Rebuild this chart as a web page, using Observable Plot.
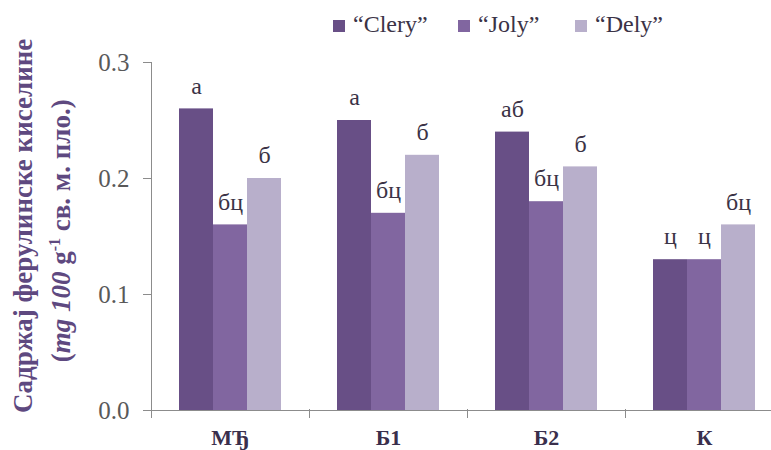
<!DOCTYPE html>
<html><head><meta charset="utf-8">
<script src="https://cdn.jsdelivr.net/npm/d3@7"></script>
<script src="https://cdn.jsdelivr.net/npm/@observablehq/plot@0.6"></script>
<style>
body{margin:0;background:#fff;}
#wrap{position:relative;width:771px;height:450px;overflow:hidden;font-family:"Liberation Serif","Times New Roman",serif;background:#fff;}
#wrap svg{position:absolute;left:0;top:0;}
#wrap svg text{font-family:"Liberation Serif","Times New Roman",serif !important;}
.legend{position:absolute;top:11px;left:0;font-size:24px;color:#3b3346;white-space:nowrap;}
.legend .item{position:absolute;top:0;display:flex;align-items:center;}
.legend .sw{width:12px;height:12px;margin-right:8px;margin-top:3px;}
.ytitle{position:absolute;font-weight:bold;color:#5e4980;font-size:27px;white-space:nowrap;transform-origin:center center;line-height:1.1;}
</style></head><body><div id="wrap"></div>
<script>
const categories = ["МЂ", "Б1", "Б2", "К"];
const seriesNames = ["“Clery”", "“Joly”", "“Dely”"];
const cleryValues = [0.26, 0.25, 0.24, 0.13];
const jolyValues = [0.16, 0.17, 0.18, 0.13];
const delyValues = [0.20, 0.22, 0.21, 0.16];
const cleryLetters = ["а", "а", "аб", "ц"];
const jolyLetters = ["бц", "бц", "бц", "ц"];
const delyLetters = ["б", "б", "б", "бц"];
const seriesColors = ["#684f86", "#8166a0", "#b8afcb"];
const yTicks = [0, 0.1, 0.2, 0.3];

const valuesBySeries = [cleryValues, jolyValues, delyValues];
const lettersBySeries = [cleryLetters, jolyLetters, delyLetters];
const data = [];
categories.forEach((c, i) => {
  seriesNames.forEach((s, j) => {
    data.push({category: c, series: s, value: valuesBySeries[j][i], letter: lettersBySeries[j][i]});
  });
});

const font = "Liberation Serif";
const chart = Plot.plot({
  width: 771,
  height: 450,
  marginTop: 62,
  marginBottom: 40,
  marginLeft: 149,
  marginRight: 0,
  style: {fontFamily: font, background: "transparent", overflow: "hidden"},
  fx: {domain: categories, range: [149, 784], padding: 0},
  x: {domain: seriesNames, paddingInner: 0, paddingOuter: 0.768, axis: null},
  y: {domain: [0, 0.3], axis: null},
  color: {domain: seriesNames, range: seriesColors},
  marks: [
    Plot.barY(data, {fx: "category", x: "series", y: "value", fill: "series"}),
    Plot.ruleY([0], {stroke: "#8c8c8c", strokeWidth: 1}),
    Plot.frame({anchor: "left", facetAnchor: "left", stroke: "#8c8c8c", insetBottom: -7}),
    Plot.frame({anchor: "left", stroke: "#8c8c8c", insetTop: 347, insetBottom: -7}),
    Plot.axisY({ticks: yTicks, tickFormat: d3.format(".1f"), tickSize: 8, tickPadding: 14, fontSize: 25, fontFamily: font, fill: "#595959", stroke: "#8c8c8c", label: null}),
    Plot.axisFx({anchor: "bottom", tickSize: 0, tickPadding: 19, fontSize: 22, fontFamily: font, fontWeight: "bold", fill: "#3a2f4c", label: null}),
    Plot.text(data, {fx: "category", x: "series", y: "value", text: "letter", dy: -23, lineAnchor: "middle", fontSize: 24, fontFamily: font, fill: "#3b3346"})
  ]
});
const wrap = document.getElementById("wrap");
wrap.appendChild(chart);

// legend
const legend = document.createElement("div");
legend.className = "legend";
const legendX = [333, 458, 575];
seriesNames.forEach((s, j) => {
  const it = document.createElement("div");
  it.className = "item";
  it.style.left = legendX[j] + "px";
  const sw = document.createElement("span");
  sw.className = "sw";
  sw.style.background = seriesColors[j];
  const tx = document.createElement("span");
  tx.textContent = s;
  it.appendChild(sw); it.appendChild(tx);
  legend.appendChild(it);
});
wrap.appendChild(legend);

// y title (two lines, rotated)
function addTitle(html, cx, cy) {
  const d = document.createElement("div");
  d.className = "ytitle";
  d.innerHTML = html;
  wrap.appendChild(d);
  const w = d.offsetWidth, h = d.offsetHeight;
  d.style.left = (cx - w / 2) + "px";
  d.style.top = (cy - h / 2) + "px";
  d.style.transform = "rotate(-90deg)";
}
addTitle("Садржај ферулинске киселине", 24, 226);
addTitle("(<i>mg 100</i> g<sup style='font-size:16px;line-height:0'>-1</sup> св. м. пло.)", 61, 231);
</script></body></html>
